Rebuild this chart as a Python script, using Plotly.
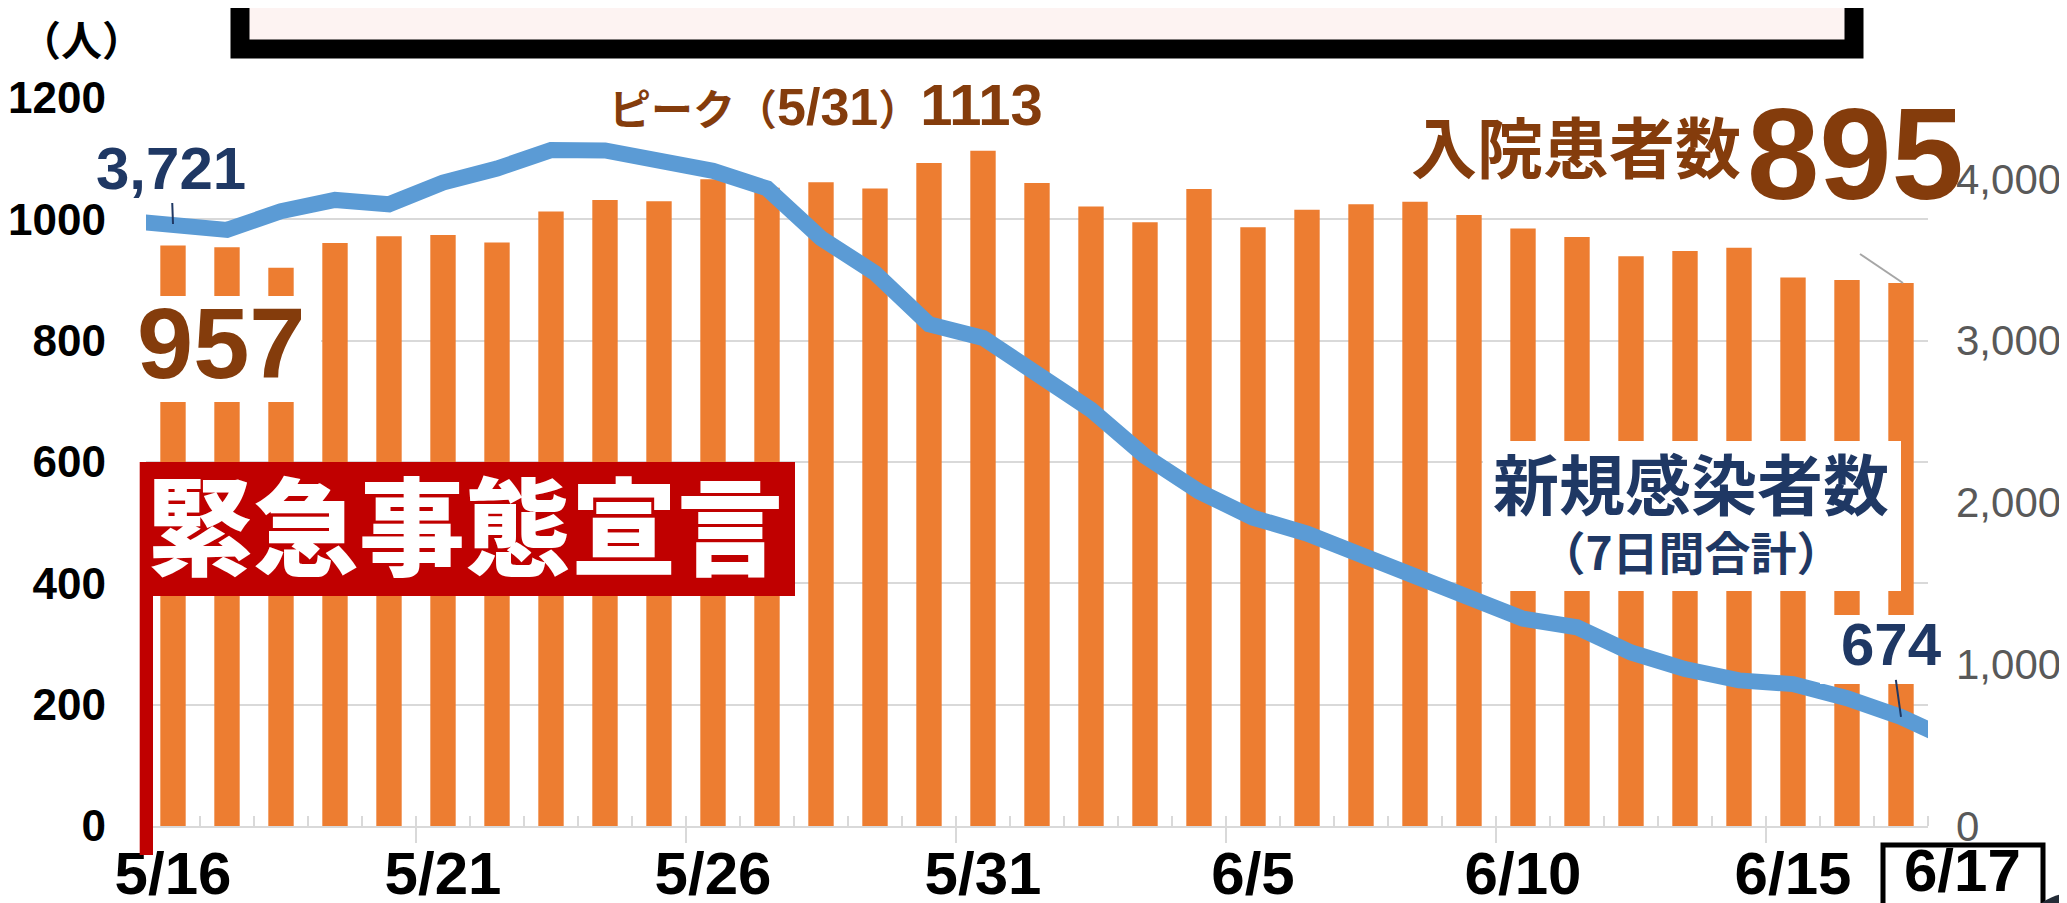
import plotly.graph_objects as go

# ---------------- data ----------------
dates = ["5/15", "5/16", "5/17", "5/18", "5/19", "5/20", "5/21", "5/22", "5/23", "5/24",
         "5/25", "5/26", "5/27", "5/28", "5/29", "5/30", "5/31", "6/1", "6/2", "6/3",
         "6/4", "6/5", "6/6", "6/7", "6/8", "6/9", "6/10", "6/11", "6/12", "6/13",
         "6/14", "6/15", "6/16", "6/17", "6/18"]
bar_dates = dates[1:34]                     # 5/16 .. 6/17 (categories shown)

inpatients = [957, 954, 920, 961, 972, 974, 962, 1013, 1032, 1030, 1066, 1052, 1061,
              1051, 1093, 1113, 1060, 1021, 995, 1050, 987, 1016, 1025, 1029, 1007,
              985, 971, 939, 948, 953, 904, 900, 895]

new_cases_7day = [3745, 3721, 3685, 3800, 3870, 3843, 3977, 4064, 4178, 4176, 4104,
                  4050, 3941, 3634, 3418, 3101, 3017, 2795, 2573, 2286, 2068, 1906,
                  1808, 1676, 1549, 1411, 1281, 1228, 1073, 970, 900, 877, 790, 674, 520]

tick_labels = ["5/16", "5/21", "5/26", "5/31", "6/5", "6/10", "6/15"]
left_ticks = [0, 200, 400, 600, 800, 1000, 1200]
right_ticks = [0, 1000, 2000, 3000, 4000]
last_label = "6/17"

# ---------------- helpers ----------------
pos = {d: i - 1 for i, d in enumerate(dates)}      # 5/16 -> 0
bar_x = [pos[d] for d in bar_dates]
line_x = [pos[d] for d in dates]
first_i = bar_dates.index("5/16")
last_i = len(bar_dates) - 1
peak_i = max(range(len(inpatients)), key=lambda i: inpatients[i])

W, H = 2067, 903
PL, PR, PT, PB = 138, 147, 90, 85
PW, PH = W - PL - PR, H - PT - PB


def px(x):
    return (x - PL) / PW


def py(y):
    return (PT + PH - y) / PH


BROWN = "#843C0C"
NAVY = "#1F3864"
RED = "#C00000"
GRID = "#D9D9D9"
NUM = "Liberation Sans, Arial, Noto Sans CJK JP"
JP = "Noto Sans CJK JP, Noto Sans CJK SC, sans-serif"

fig = go.Figure()
fig.add_trace(go.Bar(x=bar_x, y=inpatients, marker=dict(color="#ED7D31", line=dict(width=0)),
                     xaxis="x", yaxis="y", hoverinfo="skip"))
fig.add_trace(go.Scatter(x=line_x, y=new_cases_7day, mode="lines",
                         line=dict(color="#5B9BD5", width=16),
                         xaxis="x2", yaxis="y2", hoverinfo="skip"))

xr = [-0.5, len(bar_dates) - 0.5]
fig.update_layout(
    width=W, height=H,
    margin=dict(l=PL, r=PR, t=PT, b=PB),
    paper_bgcolor="white", plot_bgcolor="white",
    showlegend=False, bargap=0.53,
    xaxis=dict(range=xr, tickmode="array",
               tickvals=[pos[d] for d in tick_labels], ticktext=tick_labels,
               ticks="", showgrid=False, zeroline=False,
               showline=True, linecolor=GRID, linewidth=2,
               tickfont=dict(family=NUM, size=60, color="black", weight="bold"),
               ticklabelstandoff=-6, automargin=False,
               minor=dict(tickmode="linear", tick0=-0.5, dtick=1, ticks="inside",
                          ticklen=10, tickwidth=2, tickcolor=GRID, showgrid=False)),
    xaxis2=dict(range=xr, overlaying="x", anchor="y2", side="bottom",
                tickmode="array", tickvals=[i - 0.5 for i in range(5, len(bar_dates), 5)],
                showticklabels=False, ticks="outside", ticklen=16, tickwidth=2,
                tickcolor=GRID, showgrid=False, zeroline=False, showline=False,
                automargin=False),
    yaxis=dict(range=[0, 1200], tickmode="array", tickvals=left_ticks,
               showgrid=True, gridcolor=GRID, gridwidth=2, zeroline=False,
               ticks="", tickfont=dict(family=NUM, size=44, color="black", weight="bold"),
               ticklabelstandoff=39, automargin=False),
    yaxis2=dict(range=[0, 4500], overlaying="y", side="right", tickmode="array",
                tickvals=right_ticks, tickformat=",", showgrid=False, zeroline=False,
                ticks="", tickfont=dict(family=NUM, size=42, color="#595959"),
                ticklabelstandoff=27, automargin=False),
)


def rect(x0, y0, x1, y1, fill, line_color=None, lw=0, layer="above"):
    fig.add_shape(type="rect", xref="paper", yref="paper",
                  x0=px(x0), x1=px(x1), y0=py(y1), y1=py(y0),
                  fillcolor=fill, line=dict(color=line_color or fill, width=lw),
                  layer=layer)


# top framed box (partially cut off)
rect(232, -40, 1846, 41, "#FDF3F2", "black", 19)
# white label backgrounds
rect(126, 288, 313, 394, "white")
rect(606, 70, 1034, 130, "white")
rect(1475, 433, 1893, 583, "white")
rect(1812, 607, 1936, 676, "white")
# emergency declaration marker
rect(131.7, 454, 787, 588, RED)
rect(131.7, 588, 145, 847, RED)
# boxed last date
rect(1875, 837, 2035, 940, "rgba(0,0,0,0)", "black", 5)
# corner dot
fig.add_shape(type="circle", xref="paper", yref="paper",
              x0=px(2010), x1=px(2120), y0=py(995), y1=py(885),
              fillcolor="#232B36", line=dict(width=0), layer="above")
# leader for inpatients label
fig.add_shape(type="line", xref="paper", yref="paper",
              x0=px(1852), y0=py(246), x1=px(1895), y1=py(275),
              line=dict(color="#A6A6A6", width=2), layer="above")


def label(x, y, text, size, color, family=NUM, weight="bold"):
    fig.add_annotation(xref="paper", yref="paper", x=px(x), y=py(y), text=text,
                       showarrow=False, xanchor="center", yanchor="middle", borderpad=0,
                       font=dict(family=family, size=size, color=color, weight=weight))


label(73, 30, "（人）", 41, "black", JP)
label(213, 335, str(inpatients[first_i]), 101, BROWN)
label(457, 513, "緊急事態宣言", 106, "white", JP, 900)
label(818, 97,
      '<span style="font-size:42px">ピーク（</span><span style="font-size:52px">'
      + bar_dates[peak_i] + '</span><span style="font-size:42px">）</span>'
      + str(inpatients[peak_i]), 58, BROWN, NUM + ", " + JP)
label(1568, 136, "入院患者数", 66, BROWN, JP)
label(1847, 146, str(inpatients[last_i]), 130, BROWN)
label(1683, 500, '<span style="font-size:66px">新規感染者数</span><br>（7日間合計）',
      46, NAVY, JP)
label(1954.5, 862, last_label, 60, "black")

# data labels with leader lines on the 7-day line
fig.add_annotation(xref="x2", yref="y2", x=pos["5/16"], y=new_cases_7day[dates.index("5/16")],
                   text=f'{new_cases_7day[dates.index("5/16")]:,}', showarrow=True,
                   arrowhead=0, arrowwidth=2, arrowcolor=NAVY, standoff=0,
                   ax=-2, ay=-56, font=dict(family=NUM, size=60, color=NAVY, weight="bold"))
fig.add_annotation(xref="x2", yref="y2", x=pos["6/17"], y=new_cases_7day[dates.index("6/17")],
                   text=f'{new_cases_7day[dates.index("6/17")]:,}', showarrow=True,
                   arrowhead=0, arrowwidth=2, arrowcolor=NAVY, standoff=0,
                   ax=-10, ay=-72, font=dict(family=NUM, size=60, color=NAVY, weight="bold"))

fig.write_html("out.html")
